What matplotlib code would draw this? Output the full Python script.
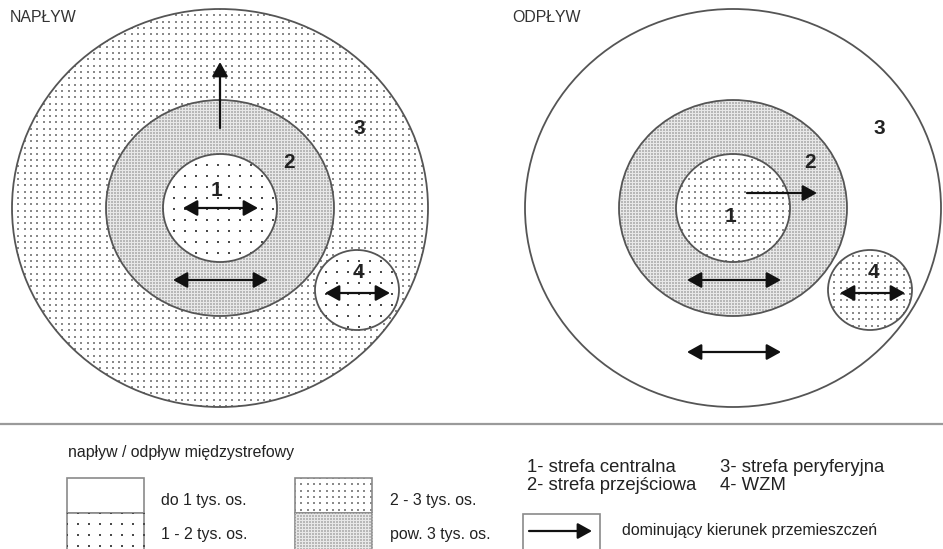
"""
Diagram: napływ / odpływ międzystrefowy (zones 1-4)
"""
import matplotlib
matplotlib.use('Agg')
import matplotlib.pyplot as plt
from matplotlib.patches import Ellipse, Rectangle, FancyArrowPatch
import numpy as np

# ---- data ----
panel_titles = ['NAPŁYW', 'ODPŁYW']
zone_labels = ['1', '2', '3', '4']
# fill class of zones 1..4 in each panel
inflow_classes = ['1-2', 'pow3', '2-3', '1-2']
outflow_classes = ['2-3', 'pow3', 'do1', '2-3']
legend_title = 'napływ / odpływ międzystrefowy'
legend_classes = ['do1', '1-2', '2-3', 'pow3']
legend_labels = ['do 1 tys. os.', '1 - 2 tys. os.', '2 - 3 tys. os.', 'pow. 3 tys. os.']
zone_names = ['1- strefa centralna', '2- strefa przejściowa',
              '3- strefa peryferyjna', '4- WZM']
arrow_label = 'dominujący kierunek przemieszczeń'

# ---- layout (pixels) ----
W, H = 943, 549
panel_cx = [220, 733]
panel_cy = 208
zone_r = {'3': (208, 199), '2': (114, 108), '1': (57, 54), '4': (42, 40)}
zone4_off = (137, 82)

LINE = '#555555'
TXT = '#222222'
FONT = 'Liberation Sans'

fig = plt.figure(figsize=(W / 100, H / 100), dpi=100)
ax = fig.add_axes([0, 0, 1, 1])
ax.set_xlim(0, W)
ax.set_ylim(H, 0)
ax.axis('off')


def add_dots(clip, x0, x1, y0, y1, cls):
    """dot texture for a fill class, clipped to a patch"""
    if cls == '1-2':
        step, size, col = 11.0, 2.6, '#4a4a4a'
    elif cls == '2-3':
        step, size, col = 6.3, 1.6, '#8a8a8a'
    elif cls == 'pow3':
        step, size, col = 3.0, 0.9, '#b8b8b8'
    else:
        return
    xs = np.arange(x0 - step, x1 + step, step)
    ys = np.arange(y0 - step, y1 + step, step)
    gx, gy = np.meshgrid(xs, ys)
    sc = ax.scatter(gx.ravel(), gy.ravel(), s=size, c=col, marker='s',
                    linewidths=0, zorder=clip.get_zorder() + 0.1)
    sc.set_clip_path(clip)


def face_for(cls):
    return '#e8e8e8' if cls == 'pow3' else 'white'


def draw_zone(cx, cy, rx, ry, cls, z):
    ell = Ellipse((cx, cy), 2 * rx, 2 * ry, facecolor=face_for(cls),
                  edgecolor='none', zorder=z)
    ax.add_patch(ell)
    add_dots(ell, cx - rx, cx + rx, cy - ry, cy + ry, cls)
    ax.add_patch(Ellipse((cx, cy), 2 * rx, 2 * ry, facecolor='none',
                         edgecolor=LINE, lw=1.3, zorder=z + 0.5))


def arrow(x0, y0, x1, y1, double=True, z=10):
    style = '<|-|>' if double else '-|>'
    ax.add_patch(FancyArrowPatch((x0, y0), (x1, y1),
                                 arrowstyle=f'{style},head_length=0.72,head_width=0.4',
                                 mutation_scale=12, lw=1.6, color='#111111',
                                 shrinkA=0, shrinkB=0, zorder=z))


# ---- panels ----
title_x = [10, 512]
for p, (cx, classes) in enumerate(zip(panel_cx, [inflow_classes, outflow_classes])):
    cy = panel_cy
    for i, key in enumerate(['3', '2', '1']):
        rx, ry = zone_r[key]
        draw_zone(cx, cy, rx, ry, classes[int(key) - 1], 2 + 2 * i)
    rx, ry = zone_r['4']
    draw_zone(cx + zone4_off[0], cy + zone4_off[1], rx, ry, classes[3], 8)

    ax.text(title_x[p], 17, panel_titles[p], fontsize=11.4, family=FONT,
            color='#333333', va='center', ha='left')

# zone numbers
num_pos = [[(-3, -18), (69, -45), (139, -80), (138, 65)],
           [(-3, 9), (77, -45), (146, -80), (140, 65)]]
for p, cx in enumerate(panel_cx):
    for lab, (dx, dy) in zip(zone_labels, num_pos[p]):
        ax.text(cx + dx, panel_cy + dy, lab, fontsize=15, fontweight='bold',
                family=FONT, color=TXT, ha='center', va='center', zorder=12)

# arrows - inflow
cx, cy = panel_cx[0], panel_cy
arrow(cx, cy - 80, cx, cy - 146, double=False)
arrow(cx - 37, cy, cx + 38, cy)
arrow(cx - 47, cy + 72, cx + 48, cy + 72)
arrow(cx + 105, cy + 85, cx + 170, cy + 85)
# arrows - outflow
cx = panel_cx[1]
arrow(cx + 14, cy - 15, cx + 84, cy - 15, double=False)
arrow(cx - 46, cy + 72, cx + 48, cy + 72)
arrow(cx - 46, cy + 144, cx + 48, cy + 144)
arrow(cx + 107, cy + 85, cx + 172, cy + 85)

# ---- legend ----
ax.plot([0, W], [424, 424], color='#9a9a9a', lw=1.6, solid_capstyle='butt')
ax.text(68, 453, legend_title, fontsize=11.4, family=FONT, color=TXT,
        va='center', ha='left')

box_w = 77
box_x = [67, 67, 295, 295]
box_y = [478, 513, 478, 513]
box_h = [35, 45, 35, 45]
label_x = [161, 161, 390, 390]
label_y = [501, 535, 501, 535]
for cls, lab, bx, by, bh, lx, ly in zip(legend_classes, legend_labels, box_x,
                                        box_y, box_h, label_x, label_y):
    rect = Rectangle((bx, by), box_w, bh, facecolor=face_for(cls),
                     edgecolor='#8a8a8a', lw=1.2, zorder=2)
    ax.add_patch(rect)
    add_dots(rect, bx, bx + box_w, by, by + bh, cls)
    ax.text(lx, ly, lab, fontsize=11.4, family=FONT, color=TXT,
            va='center', ha='left')

name_x = [527, 527, 720, 720]
name_y = [467, 486, 467, 486]
for name, nx, ny in zip(zone_names, name_x, name_y):
    ax.text(nx, ny, name, fontsize=13.3, family=FONT, color=TXT,
            va='center', ha='left')

ax.add_patch(Rectangle((523, 514), box_w, 45, facecolor='white',
                       edgecolor='#8a8a8a', lw=1.2, zorder=2))
arrow(529, 531, 592, 531, double=False)
ax.text(622, 531, arrow_label, fontsize=11.4, family=FONT, color=TXT,
        va='center', ha='left')

plt.savefig('out.png', dpi=100)
plt.close()
